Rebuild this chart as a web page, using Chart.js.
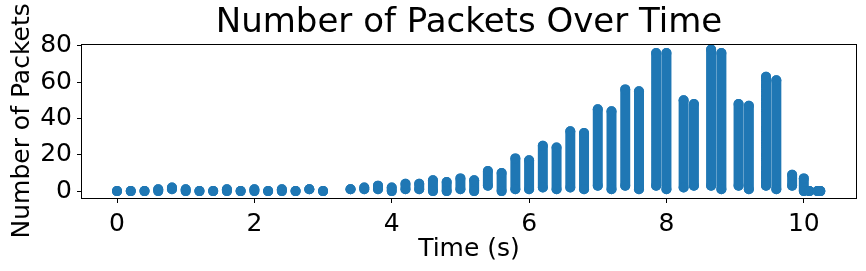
<!DOCTYPE html>
<html>
<head>
<meta charset="utf-8">
<script src="https://cdn.jsdelivr.net/npm/chart.js@4/dist/chart.umd.min.js"></script>
<style>
  html, body { margin: 0; padding: 0; background: #fff; }
  #wrap { width: 866px; height: 271px; position: relative; }
</style>
</head>
<body>
<div id="wrap"><canvas id="packetChart"></canvas></div>
<script>
// Time of each burst (s) with lowest and highest packet count seen there
const times = [
    0, 0.2, 0.4, 0.6, 0.8, 1.0, 1.2, 1.4, 1.6, 1.8, 2.0, 2.2, 2.4, 2.6, 2.8, 3.0,
    3.4, 3.6, 3.8, 4.0, 4.2, 4.4, 4.6, 4.8, 5.0, 5.2, 5.4, 5.6, 5.8,
    6.0, 6.2, 6.4, 6.6, 6.8, 7.0, 7.2, 7.4, 7.6, 7.85, 8.0, 8.25, 8.4,
    8.65, 8.8, 9.05, 9.2, 9.45, 9.6, 9.83, 10.0, 10.08, 10.2, 10.24
];
const lows = [
    0, 0, 0, 0, 1, 0, 0, 0, 0, 0, 0, 0, 0, 0, 1, 0,
    1, 1, 1, 0, 1, 1, 0, 0, 1, 0, 3, 0, 1,
    1, 2, 1, 2, 1, 3, 1, 3, 1, 3, 1, 2, 3,
    3, 1, 3, 1, 3, 1, 3, 0, 0, 0, 0
];
const highs = [
    0, 0, 0, 1, 2, 1, 0, 0, 1, 0, 1, 0, 1, 0, 1, 0,
    1, 2, 3, 2, 4, 4, 6, 5, 7, 6, 11, 10, 18,
    17, 25, 24, 33, 32, 45, 44, 56, 55, 76, 76, 50, 48,
    78, 76, 48, 47, 63, 61, 9, 7, 0, 0, 0
];

const xTicks = [0, 2, 4, 6, 8, 10];
const yTicks = [0, 20, 40, 60, 80];

const blue = "#1f77b4";
const font = "'DejaVu Sans', sans-serif";

// each burst is one stroke from its low to its high, broken by a null
const points = [];
times.forEach((t, i) => {
    points.push({ x: t, y: lows[i] });
    points.push({ x: t, y: highs[i] });
    points.push({ x: t, y: null });
});

// matplotlib style box round the plot
const frame = {
    id: "frame",
    afterDatasetsDraw(chart) {
        const a = chart.chartArea;
        const ctx = chart.ctx;
        ctx.save();
        ctx.strokeStyle = "#000";
        ctx.lineWidth = 1;
        ctx.strokeRect(Math.round(a.left) - 0.5, Math.round(a.top) + 0.5,
            Math.round(a.right - a.left) + 1, Math.round(a.bottom - a.top));
        ctx.restore();
    }
};

new Chart(document.getElementById("packetChart"), {
    type: "scatter",
    data: {
        datasets: [{
            data: points,
            showLine: true,
            spanGaps: false,
            borderColor: blue,
            borderWidth: 10,
            borderCapStyle: "round",
            borderJoinStyle: "round",
            pointRadius: 5,
            pointHoverRadius: 5,
            pointBorderWidth: 0,
            pointBackgroundColor: blue
        }]
    },
    options: {
        responsive: true,
        maintainAspectRatio: false,
        animation: false,
        layout: { padding: { left: 0, right: 10, top: 0, bottom: 0 } },
        plugins: {
            legend: { display: false },
            tooltip: { enabled: false },
            title: {
                display: true,
                text: "Number of Packets Over Time",
                fullSize: false,
                color: "#000",
                font: { family: font, size: 34, weight: "normal" },
                padding: { top: 3, bottom: 0 }
            }
        },
        scales: {
            x: {
                type: "linear",
                min: -0.51,
                max: 10.76,
                afterBuildTicks: s => { s.ticks = xTicks.map(v => ({ value: v })); },
                afterFit: s => { s.height = 73; },
                border: { display: false },
                grid: { drawOnChartArea: false, drawTicks: true, tickLength: 5, color: "#000" },
                ticks: { color: "#000", font: { family: font, size: 25 }, padding: 6, maxRotation: 0 },
                title: {
                    display: true,
                    text: "Time (s)",
                    color: "#000",
                    font: { family: font, size: 25 },
                    padding: { top: 0, bottom: 7 }
                }
            },
            y: {
                type: "linear",
                min: -3.8,
                max: 81.1,
                afterBuildTicks: s => { s.ticks = yTicks.map(v => ({ value: v })); },
                afterFit: s => { s.width = 82; },
                border: { display: false },
                grid: { drawOnChartArea: false, drawTicks: true, tickLength: 5, color: "#000" },
                ticks: { color: "#000", font: { family: font, size: 25 }, padding: 5 },
                title: {
                    display: true,
                    text: "Number of Packets",
                    color: "#000",
                    font: { family: font, size: 25 },
                    padding: { top: 7, bottom: 0 }
                }
            }
        }
    },
    plugins: [frame]
});
</script>
</body>
</html>
